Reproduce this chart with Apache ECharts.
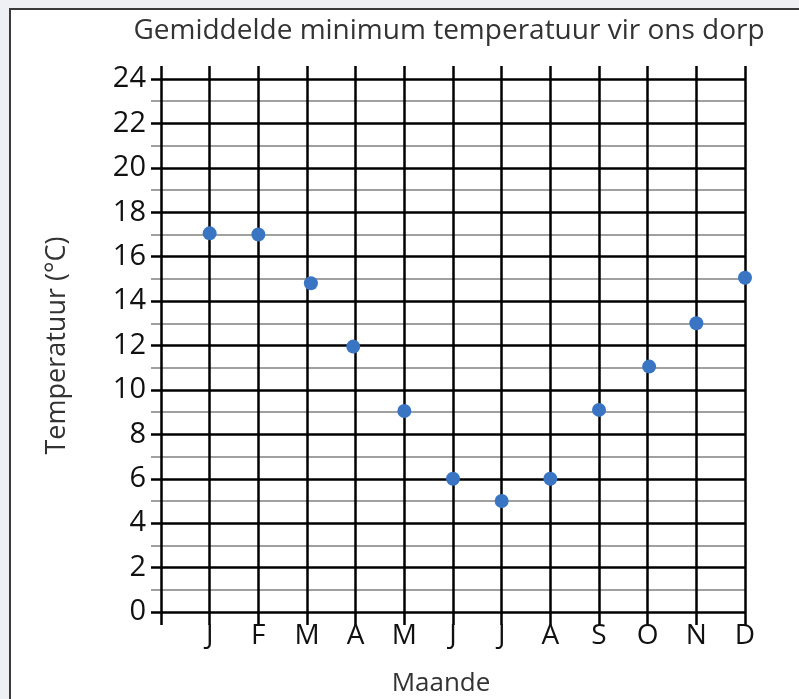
<!DOCTYPE html>
<html>
<head>
<meta charset="utf-8">
<script src="https://cdn.jsdelivr.net/npm/echarts@6/dist/echarts.min.js"></script>
<style>
html,body{margin:0;padding:0;background:#eef0f4;overflow:hidden;}
#frame{position:absolute;left:9px;top:8px;width:820px;height:720px;background:#fff;border-left:2px solid #3a3a3a;border-top:2px solid #3a3a3a;}
#chart{position:absolute;left:0;top:0;width:799px;height:699px;}
</style>
</head>
<body>
<div id="frame"></div>
<div id="chart"></div>
<script>
const months = ['J','F','M','A','M','J','J','A','S','O','N','D'];
const monthPos = [1, 2, 3.08, 3.95, 5, 6, 7, 8, 9, 10.03, 11, 12];
const temps = [17.05, 17.0, 14.8, 11.95, 9.05, 6.0, 5.0, 6.0, 9.1, 11.05, 13.0, 15.05];
const titleText = 'Gemiddelde minimum temperatuur vir ons dorp';
const xName = 'Maande';
const yName = 'Temperatuur (°C)';

const FONT = 'Open Sans';
const BLACK = {color: '#000', width: 2.5};
const GRAY = {color: '#a0a0a0', width: 2};
const chart = echarts.init(document.getElementById('chart'), null, {renderer:'canvas'});
chart.setOption({
  backgroundColor: 'transparent',
  animation: false,
  title: {
    text: titleText,
    left: 444, top: 12, textAlign: 'center',
    textStyle: {fontFamily: FONT, fontSize: 28, fontWeight: 'normal', color: '#333'}
  },
  grid: {left: 161, right: 54, top: 79, bottom: 87, containLabel: false, outerBoundsMode: 'none'},
  xAxis: [{
    type: 'value', min: 0, max: 12, interval: 1, position: 'bottom', z: 3,
    axisLine: {show: false},
    axisTick: {show: true, length: 13, lineStyle: BLACK},
    axisLabel: {
      margin: 10, fontFamily: FONT, fontSize: 28, color: '#111',
      formatter: function (v) { return v >= 1 && v <= 12 ? months[Math.round(v) - 1] : ''; }
    },
    splitLine: {show: true, lineStyle: BLACK},
    name: xName, nameLocation: 'middle', nameGap: 59,
    nameTextStyle: {fontFamily: FONT, fontSize: 26, color: '#333', padding: [0, 24, 0, 0]}
  }, {
    type: 'value', min: 0, max: 12, interval: 1, position: 'top', z: 3,
    axisLine: {show: false},
    axisTick: {show: true, length: 13, lineStyle: BLACK},
    axisLabel: {show: false},
    splitLine: {show: false}
  }],
  yAxis: {
    type: 'value', min: 0, max: 24, interval: 2, z: 1,
    axisLine: {show: false},
    axisTick: {show: true, length: 10, lineStyle: BLACK},
    minorTick: {show: true, splitNumber: 2, length: 10, lineStyle: GRAY},
    minorSplitLine: {show: true, lineStyle: GRAY},
    splitLine: {show: true, lineStyle: BLACK},
    axisLabel: {margin: 15, fontFamily: FONT, fontSize: 29, color: '#111'},
    name: yName, nameLocation: 'middle', nameGap: 90, nameRotate: 90,
    nameTextStyle: {fontFamily: FONT, fontSize: 27, color: '#333'}
  },
  series: [{
    type: 'scatter', xAxisIndex: 0, z: 5,
    symbolSize: 14,
    itemStyle: {color: '#3a75c4', opacity: 1},
    data: monthPos.map((x, i) => [x, temps[i]])
  }]
});
</script>
</body>
</html>
